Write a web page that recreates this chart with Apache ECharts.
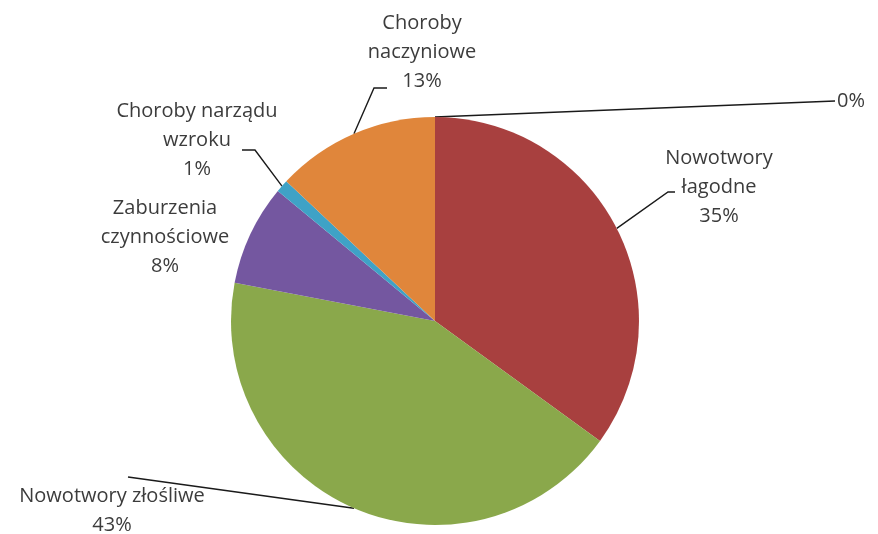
<!DOCTYPE html>
<html>
<head>
<meta charset="utf-8">
<script src="https://cdn.jsdelivr.net/npm/echarts@6/dist/echarts.min.js"></script>
<style>
html,body{margin:0;padding:0;background:#fff;}
#chart{width:878px;height:534px;}
</style>
</head>
<body>
<div id="chart"></div>
<script>
// Data
var categories = ['', 'Nowotwory\nłagodne', 'Nowotwory złośliwe', 'Zaburzenia\nczynnościowe', 'Choroby narządu\nwzroku', 'Choroby\nnaczyniowe'];
var values = [0, 35, 43, 8, 1, 13];
var colors = ['#4F81BD', '#A8403F', '#8AA84B', '#7457A0', '#3FA2C6', '#E0863B'];

// Label layout (positions of label blocks, and leader-line attachment offsets)
var labelPlace = [
  {x: 837, y: 101, align: 'left', end: [-2, 0], knee: 0},
  {x: 719, y: 187, align: 'center', end: [-44, 5], knee: -7},
  {x: 112, y: 511, align: 'center', end: [16, -34], knee: 0},
  {x: 165, y: 237, align: 'center', end: null, knee: 0},
  {x: 197, y: 140, align: 'center', end: [45, 10], knee: 13},
  {x: 422, y: 52, align: 'center', end: [-35, 36], knee: -13}
];

var data = categories.map(function (c, i) {
  var item = {name: c, value: values[i], itemStyle: {color: colors[i]}};
  if (!labelPlace[i].end) item.labelLine = {show: false};
  return item;
});

var chart = echarts.init(document.getElementById('chart'), null, {renderer: 'canvas'});
chart.setOption({
  backgroundColor: '#ffffff',
  animation: false,
  series: [{
    type: 'pie',
    center: [435, 321],
    radius: 204,
    startAngle: 90,
    clockwise: true,
    avoidLabelOverlap: false,
    data: data,
    itemStyle: {borderWidth: 0},
    label: {
      show: true,
      position: 'outside',
      color: '#3c3c3c',
      fontFamily: 'Open Sans',
      fontSize: 20,
      lineHeight: 29,
      align: 'center',
      formatter: function (p) {
        var pct = Math.round(p.percent) + '%';
        return p.name ? p.name + '\n' + pct : pct;
      }
    },
    labelLine: {
      show: true,
      length: 10,
      length2: 10,
      lineStyle: {color: '#1a1a1a', width: 1.4}
    },
    labelLayout: function (params) {
      var i = params.dataIndex;
      var pl = labelPlace[i];
      var res = {x: pl.x, y: pl.y, align: pl.align, verticalAlign: 'middle'};
      if (pl.end && params.labelLinePoints) {
        var p0 = params.labelLinePoints[0];
        var e = [pl.x + pl.end[0], pl.y + pl.end[1]];
        var k = [e[0] + pl.knee, e[1]];
        res.labelLinePoints = [p0, k, e];
      }
      return res;
    }
  }]
});
</script>
</body>
</html>
